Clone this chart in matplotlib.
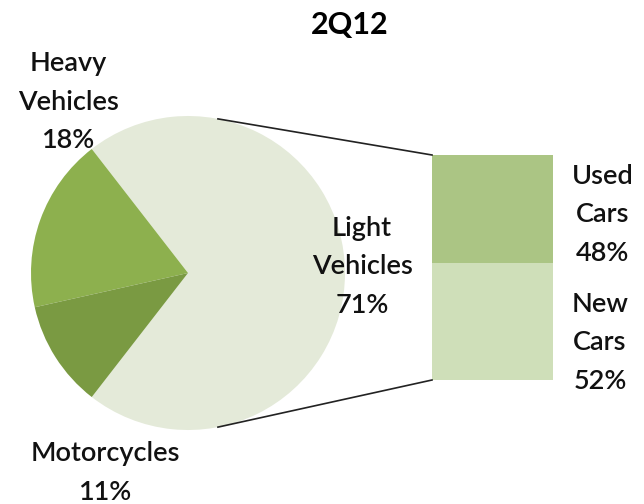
import numpy as np
import matplotlib
matplotlib.use('Agg')
import matplotlib.pyplot as plt

# pie data
pie_labels = ['Light\nVehicles', 'Heavy\nVehicles', 'Motorcycles']
pie_values = [71, 18, 11]
pie_colors = ['#e4ead9', '#8db04e', '#7a9a42']

# bar-of-pie data (split of Light Vehicles)
bar_labels = ['New\nCars', 'Used\nCars']
bar_values = [52, 48]
bar_colors = ['#cfdfb9', '#abc584']

title = '2Q12'

plt.rcParams['font.family'] = ['Lato', 'DejaVu Sans']

W, H = 644, 504
fig = plt.figure(figsize=(W / 100, H / 100), dpi=100)
ax = fig.add_axes([0, 0, 1, 1])

# pie, centred on Light Vehicles at 0 degrees
cx, cy, r = 188, H - 273, 157
start = -pie_values[0] / 100 * 360 / 2
ax.pie(pie_values, colors=pie_colors, startangle=start, counterclock=True,
       center=(cx, cy), radius=r, frame=True,
       wedgeprops=dict(linewidth=0))
ax.set_xlim(0, W)
ax.set_ylim(0, H)
ax.set_aspect('equal')
ax.axis('off')

# stacked bar
bx, bw = 492.5, 121
b_bottom, b_top = H - 380, H - 155
scale = (b_top - b_bottom) / sum(bar_values)
bottom = b_bottom
for v, c in zip(bar_values, bar_colors):
    ax.bar(bx, v * scale, width=bw, bottom=bottom, color=c, linewidth=0)
    bottom += v * scale

# connector lines
ang = np.deg2rad(79)
ax.plot([cx + r * np.cos(ang), bx - bw / 2], [cy + r * np.sin(ang), b_top],
        color='#222222', lw=1.2)
ax.plot([cx + r * np.cos(-ang), bx - bw / 2], [cy + r * np.sin(-ang), b_bottom],
        color='#222222', lw=1.2)

fs = 19.5
ls = 1.68
ax.text(350, H - 25, title, ha='center', va='center', fontsize=22,
        fontweight='bold', color='black')

pie_pos = [(362, H - 267), (68, H - 102), (105, H - 473)]
for lab, v, (x, y) in zip(pie_labels, pie_values, pie_pos):
    ax.text(x, y, f'{lab}\n{v}%', ha='center', va='center', fontsize=fs,
            linespacing=ls, color='#111111', fontweight='semibold')

bar_pos = [(600, H - 343), (603, H - 215)]
for lab, v, (x, y) in zip(bar_labels, bar_values, bar_pos):
    ax.text(x, y, f'{lab}\n{v}%', ha='center', va='center', fontsize=fs,
            linespacing=ls, color='#111111', fontweight='semibold')

fig.savefig('out.png', dpi=100)
